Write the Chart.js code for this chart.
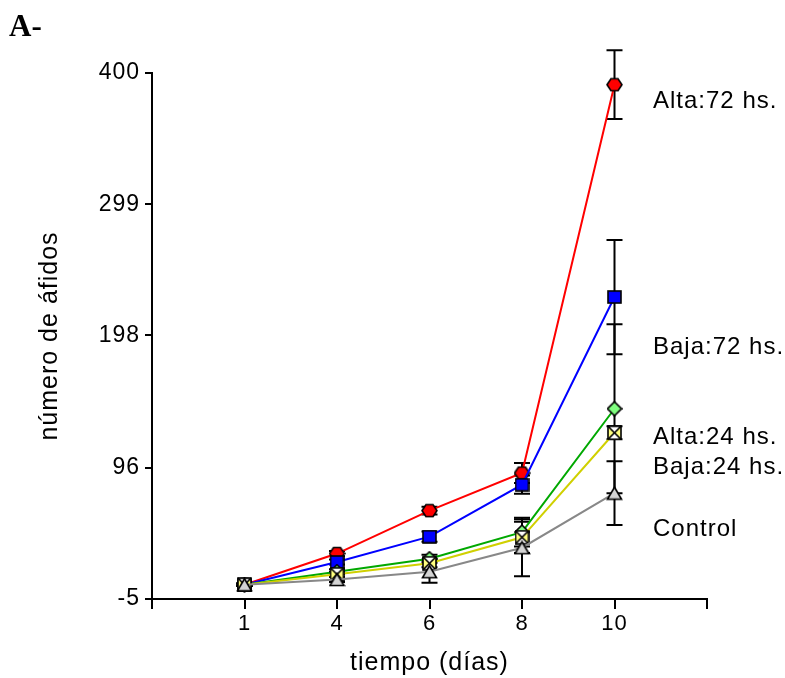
<!DOCTYPE html>
<html>
<head>
<meta charset="utf-8">
<script src="https://cdn.jsdelivr.net/npm/chart.js@4.4.1/dist/chart.umd.min.js"></script>
<style>
  html, body { margin: 0; padding: 0; background: #ffffff; }
  #wrap { width: 785px; height: 678px; position: relative; }
</style>
</head>
<body>
<div id="wrap"><canvas id="chart" width="785" height="678"></canvas></div>
<script>
// Sampling days (category slots 1..5; slots 0 and 6 are empty padding)
const days = ['1', '4', '6', '8', '10'];
const xTickLabels = ['', '1', '4', '6', '8', '10', ''];
const yTickValues = [-5, 96, 198, 299, 400];

// Mean aphid counts per treatment
const alta72 = [6, 30, 63, 92, 391];
const baja72 = [6, 23.5, 43, 83, 227.5];
const alta24 = [6, 16, 26, 46.5, 141.5];
const baja24 = [6, 14, 22.5, 42.5, 123];
const control = [6, 10, 16, 34.5, 76.5];

// Error (+/-) for each mean
const alta72Err = [1, 2, 3, 7.7, 26.5];
const baja72Err = [1, 2, 4, 7, 44];
const alta24Err = [1, 2, 3, 11, 65];
const baja24Err = [1, 2, 3, 12, 5];
const controlErr = [1, 2, 8.5, 22, 24.5];

const seriesNames = ['Alta:72 hs.', 'Baja:72 hs.', 'Alta:24 hs.', 'Baja:24 hs.', 'Control'];

const FONT = "'Liberation Sans', Arial, Helvetica, sans-serif";

// ---- marker glyphs ----
function marker(w, h, draw) {
  const c = document.createElement('canvas');
  c.width = w; c.height = h;
  const g = c.getContext('2d');
  g.lineWidth = 1.6;
  g.strokeStyle = '#000';
  g.lineJoin = 'miter';
  draw(g, w, h);
  return c;
}
const hexMarker = marker(17, 15, (g, w, h) => {
  g.beginPath();
  g.moveTo(1, h / 2); g.lineTo(5, 1.5); g.lineTo(w - 5, 1.5);
  g.lineTo(w - 1, h / 2); g.lineTo(w - 5, h - 1.5); g.lineTo(5, h - 1.5);
  g.closePath();
  g.fillStyle = '#ff0000'; g.fill(); g.stroke();
});
const squareMarker = marker(15, 14, (g, w, h) => {
  g.fillStyle = '#0000ff';
  g.fillRect(1, 1, w - 2, h - 2);
  g.strokeRect(1, 1, w - 2, h - 2);
});
const diamondMarker = marker(16, 16, (g, w, h) => {
  g.beginPath();
  g.moveTo(w / 2, 1); g.lineTo(w - 1, h / 2); g.lineTo(w / 2, h - 1); g.lineTo(1, h / 2);
  g.closePath();
  g.fillStyle = '#80ff80'; g.fill(); g.stroke();
});
const bowtieMarker = marker(15, 15, (g, w, h) => {
  g.fillStyle = '#ffffff';
  g.fillRect(1, 1, w - 2, h - 2);
  g.fillStyle = '#ffff80';
  g.beginPath(); g.moveTo(1, 1); g.lineTo(w / 2, h / 2); g.lineTo(1, h - 1); g.closePath(); g.fill();
  g.beginPath(); g.moveTo(w - 1, 1); g.lineTo(w / 2, h / 2); g.lineTo(w - 1, h - 1); g.closePath(); g.fill();
  g.beginPath(); g.moveTo(1, 1); g.lineTo(w - 1, h - 1); g.moveTo(w - 1, 1); g.lineTo(1, h - 1); g.stroke();
  g.strokeRect(1, 1, w - 2, h - 2);
});
const triangleMarker = marker(17, 15, (g, w, h) => {
  g.beginPath();
  g.moveTo(w / 2, 1.5); g.lineTo(w - 1.5, h - 1.5); g.lineTo(1.5, h - 1.5);
  g.closePath();
  g.fillStyle = '#d4d4d4'; g.fill(); g.stroke();
});

function points(values) {
  return values.map((v, i) => ({ x: i + 1, y: v }));
}

function series(label, values, errors, color, style, order) {
  return {
    label,
    data: points(values),
    errors,
    borderColor: color,
    backgroundColor: color,
    borderWidth: 2,
    pointStyle: style,
    pointRadius: 7,
    pointHoverRadius: 7,
    order,
    tension: 0
  };
}

// Vertical error bars with caps, drawn beneath lines and markers
const errorBars = {
  id: 'errorBars',
  beforeDatasetsDraw(chart) {
    const { ctx, scales: { x, y } } = chart;
    ctx.save();
    ctx.strokeStyle = '#000';
    ctx.lineWidth = 2;
    const cap = 8;
    chart.data.datasets.forEach((ds, di) => {
      if (!chart.isDatasetVisible(di)) return;
      ds.data.forEach((p, i) => {
        const e = ds.errors[i];
        const px = x.getPixelForValue(p.x);
        const top = y.getPixelForValue(p.y + e);
        const bot = y.getPixelForValue(p.y - e);
        ctx.beginPath();
        ctx.moveTo(px, top); ctx.lineTo(px, bot);
        ctx.moveTo(px - cap, top); ctx.lineTo(px + cap, top);
        ctx.moveTo(px - cap, bot); ctx.lineTo(px + cap, bot);
        ctx.stroke();
      });
    });
    ctx.restore();
  }
};

// Series names at the right of the plot and the panel letter
const annotations = {
  id: 'annotations',
  afterDraw(chart) {
    const { ctx, chartArea } = chart;
    ctx.save();
    ctx.letterSpacing = '1px';
    ctx.fillStyle = '#000';
    ctx.textAlign = 'left';
    ctx.textBaseline = 'middle';
    ctx.font = '24px ' + FONT;
    const lx = chartArea.right - 54;
    const ly = [101, 347, 437, 467, 529];
    seriesNames.forEach((s, i) => ctx.fillText(s, lx, ly[i]));
    ctx.letterSpacing = '0px';
    ctx.font = "bold 31px 'Liberation Serif', 'Times New Roman', serif";
    ctx.textBaseline = 'alphabetic';
    ctx.fillText('A-', 9, 36);
    ctx.restore();
  }
};

const spacing = {
  id: 'spacing',
  beforeDraw(chart) { chart.ctx.letterSpacing = '1px'; }
};

new Chart(document.getElementById('chart'), {
  type: 'line',
  data: {
    datasets: [
      series(seriesNames[0], alta72, alta72Err, '#ff0000', hexMarker, 5),
      series(seriesNames[1], baja72, baja72Err, '#0000ff', squareMarker, 4),
      series(seriesNames[2], alta24, alta24Err, '#00a800', diamondMarker, 3),
      series(seriesNames[3], baja24, baja24Err, '#d0d000', bowtieMarker, 2),
      series(seriesNames[4], control, controlErr, '#888888', triangleMarker, 1)
    ]
  },
  options: {
    responsive: false,
    animation: false,
    devicePixelRatio: 1,
    layout: { autoPadding: false, padding: { top: 73, right: 78, left: 0, bottom: 0 } },
    plugins: { legend: { display: false }, tooltip: { enabled: false } },
    scales: {
      x: {
        type: 'linear',
        min: 0,
        max: 6,
        afterFit(scale) { scale.height = 79; },
        afterBuildTicks(scale) {
          scale.ticks = xTickLabels.map((_, i) => ({ value: i }));
        },
        ticks: {
          autoSkip: false,
          maxRotation: 0,
          padding: 2,
          color: '#000',
          font: { family: FONT, size: 22 },
          callback: (v) => xTickLabels[v]
        },
        grid: { drawOnChartArea: false, drawTicks: true, tickLength: 10, color: '#000', tickColor: '#000', lineWidth: 2 },
        border: { display: true, color: '#000', width: 2 },
        title: {
          display: true,
          text: 'tiempo (días)',
          color: '#000',
          font: { family: FONT, size: 25 },
          padding: { top: 0, bottom: 0 }
        }
      },
      y: {
        type: 'linear',
        min: -5,
        max: 400,
        afterFit(scale) { scale.width = 152; },
        afterBuildTicks(scale) {
          scale.ticks = yTickValues.map(v => ({ value: v }));
        },
        ticks: {
          padding: 5,
          color: '#000',
          font: { family: FONT, size: 23 },
          callback: (v) => String(v)
        },
        grid: { drawOnChartArea: false, drawTicks: true, tickLength: 7, color: '#000', tickColor: '#000', lineWidth: 2 },
        border: { display: true, color: '#000', width: 2 },
        title: {
          display: true,
          text: 'número de áfidos',
          color: '#000',
          font: { family: FONT, size: 25 },
          padding: { top: 35, bottom: 0 }
        }
      }
    }
  },
  plugins: [spacing, errorBars, annotations]
});
</script>
</body>
</html>
